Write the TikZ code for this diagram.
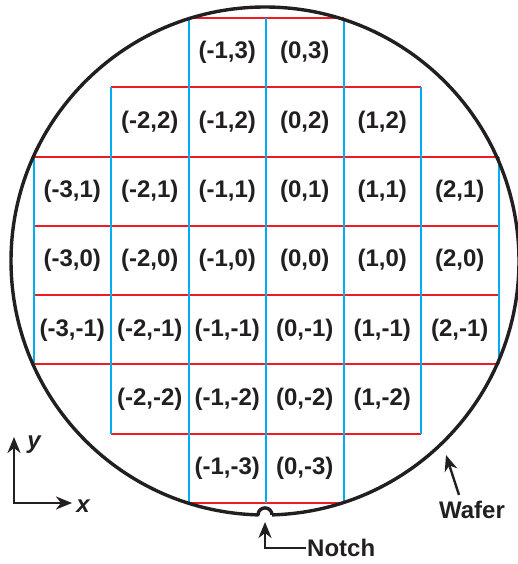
\documentclass[tikz,border=0pt]{standalone}
\usepackage{fontspec}
\setmainfont{Liberation Sans}
\usetikzlibrary{arrows.meta}
\definecolor{gridred}{RGB}{237,28,36}
\definecolor{gridblue}{RGB}{0,174,239}
\definecolor{ink}{RGB}{35,31,32}

\begin{document}
\begin{tikzpicture}[x=1pt, y=1pt,
        lbl/.style={font=\fontsize{24}{28}\selectfont\bfseries, text=ink, inner sep=1pt},
        axlbl/.style={lbl, font=\fontsize{24}{28}\selectfont\bfseries\itshape},
        redline/.style={gridred, line width=2pt},
        blueline/.style={gridblue, line width=2pt},
        pointer/.style={-{Stealth[length=16pt,width=13pt,inset=5pt]}, ink, line width=2.4pt},
        axis/.style={{Stealth[length=16pt,width=13pt,inset=5pt]}-{Stealth[length=16pt,width=13pt,inset=5pt]}, ink, line width=2.4pt}]
    \useasboundingbox (0,0) rectangle (518,564);
    % 晶圆中心
    \coordinate (o) at (265,303);

    % 网格线
    \begin{scope}[shift={(266,303.5)}, x=77.5pt, y=69.3pt]
        \foreach \b/\a in {3.5/1, 2.5/2, 1.5/3, 0.5/3, -0.5/3, -1.5/3, -2.5/2, -3.5/1}
            \draw[redline] (-\a,\b) -- (\a,\b);
        \foreach \i/\a in {-3/1.5, -2/2.5, -1/3.5, 0/3.5, 1/3.5, 2/2.5, 3/1.5}
            \draw[blueline] (\i,-\a) -- (\i,\a);
        % 芯片坐标
        \foreach \j/\imin/\imax in {3/-1/0, 2/-2/1, 1/-3/2, 0/-3/2, -1/-3/2, -2/-2/1, -3/-1/0}
            \foreach \i in {\imin,...,\imax}
                \node[lbl] (c\i\j) at (\i+0.5,\j) {(\i,\j)};
    \end{scope}

    % 晶圆与缺口
    \draw[ink, line width=3.4pt, line join=round] (o) ++(-88.42:254)
        arc[start angle=-88.42, end angle=268.42, radius=254]
        arc[start angle=180, end angle=0, radius=7];

    % 标注
    \node[lbl] (wafer) at (472,54) {Wafer};
    \coordinate (wafertip) at (446,109);
    \draw[pointer] ([shift={(-13pt,5pt)}]wafer.north) -- (wafertip);

    \node[lbl, anchor=west] (notch) at (306,16) {Notch};
    \coordinate (notchtip) at (265,42);
    \draw[pointer] (notch.west) -| (notchtip);

    % 坐标轴
    \coordinate (ytip) at (14,127);
    \coordinate (xtip) at (72,61);
    \draw[axis] (ytip) |- (xtip);
    \node[axlbl] (ylbl) at (34,119) {y};
    \node[axlbl] (xlbl) at (83,58) {x};
\end{tikzpicture}
\end{document}
